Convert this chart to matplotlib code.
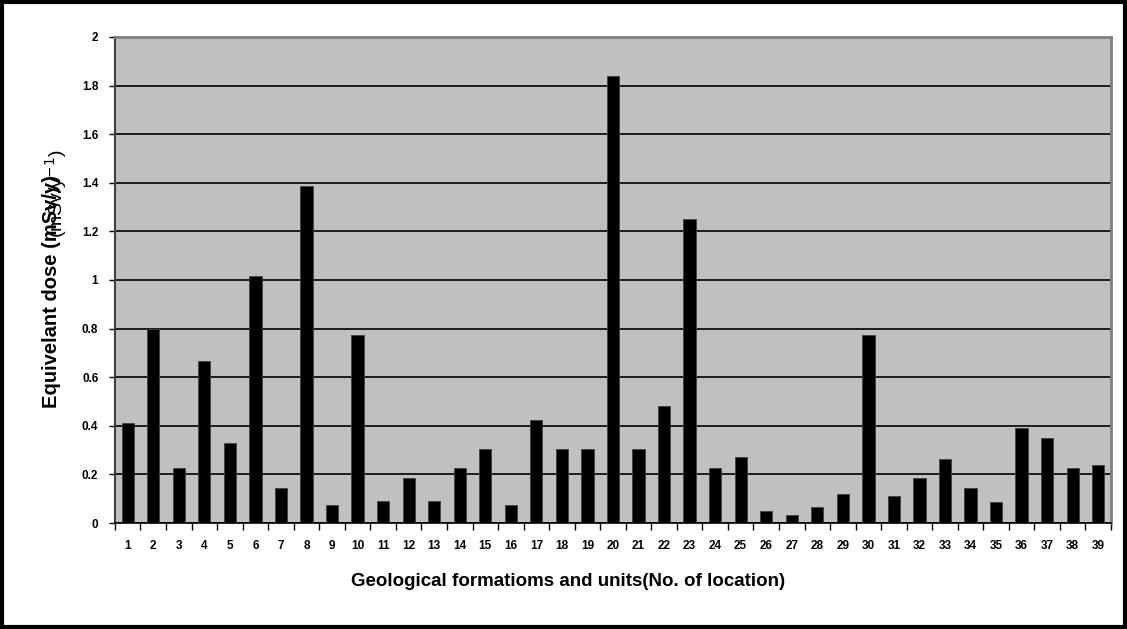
import matplotlib
matplotlib.use('Agg')
import matplotlib.pyplot as plt
from matplotlib.patches import Rectangle
import numpy as np

plt.rcParams['font.family'] = ['Liberation Sans', 'DejaVu Sans']

# sample locations and equivalent dose (mSv/y)
locations = list(range(1, 40))
dose = [0.41, 0.80, 0.225, 0.665, 0.33, 1.015, 0.143, 1.385, 0.075, 0.775,
        0.09, 0.184, 0.09, 0.225, 0.303, 0.075, 0.424, 0.303, 0.303, 1.84,
        0.303, 0.481, 1.25, 0.225, 0.27, 0.05, 0.035, 0.065, 0.118, 0.775,
        0.111, 0.184, 0.263, 0.143, 0.088, 0.392, 0.351, 0.225, 0.239]
yticks = [0, 0.2, 0.4, 0.6, 0.8, 1, 1.2, 1.4, 1.6, 1.8, 2]
ytick_labels = ['0', '0.2', '0.4', '0.6', '0.8', '1', '1.2', '1.4', '1.6', '1.8', '2']

fig = plt.figure(figsize=(11.27, 6.29), dpi=100)
ax = fig.add_axes([0.102, 0.1685, 0.8838, 0.7727])
ax.set_facecolor('#c0c0c0')

ax.bar(locations, dose, width=0.48, color='black', edgecolor='#404040', linewidth=0.6, zorder=3)

ax.set_xlim(0.5, 39.5)
ax.set_ylim(0, 2)
ax.set_yticks(yticks)
ax.set_yticklabels(ytick_labels)
ax.yaxis.grid(True, color='black', linewidth=1.2, zorder=1)
ax.set_axisbelow(True)

# category boundary ticks, labels in the middle
ax.set_xticks(np.arange(0.5, 40, 1))
ax.set_xticklabels([])
ax.set_xticks(locations, minor=True)
ax.set_xticklabels([str(l) for l in locations], minor=True)
ax.tick_params(axis='x', which='major', length=5, width=1, color='black', direction='out')
ax.tick_params(axis='x', which='minor', length=0, pad=12)
ax.tick_params(axis='y', length=4, width=1, pad=8)
for lab in ax.get_xticklabels(minor=True) + ax.get_yticklabels():
    lab.set_fontsize(8.5)
    lab.set_fontweight('bold')

ax.spines['bottom'].set_color('black')
ax.spines['bottom'].set_linewidth(1.2)
ax.spines['left'].set_color('#404040')
ax.spines['left'].set_linewidth(1.5)
ax.spines['top'].set_color('#808080')
ax.spines['top'].set_linewidth(2)
ax.spines['right'].set_color('#808080')
ax.spines['right'].set_linewidth(2)

ax.set_xlabel('Geological formatioms and units(No. of location)', fontsize=13.5,
              fontweight='bold')
ax.xaxis.set_label_coords(0.455, -0.102)

# y label with the overlapping unit text of the original
fig.text(0.046, 1 - 408 / 629, 'Equivelant dose (mSv/y)', rotation=90,
         ha='center', va='bottom', fontsize=14.5, fontweight='bold')
fig.text(0.050, 1 - 238 / 629, '(mSv/y$^{-1}$)', rotation=90,
         ha='center', va='bottom', fontsize=14)

# outer frame
fig.patches.append(Rectangle((0.0015, 0.0035), 0.997, 0.993, transform=fig.transFigure,
                             fill=False, edgecolor='black', linewidth=3))

fig.savefig('out.png', dpi=100)
